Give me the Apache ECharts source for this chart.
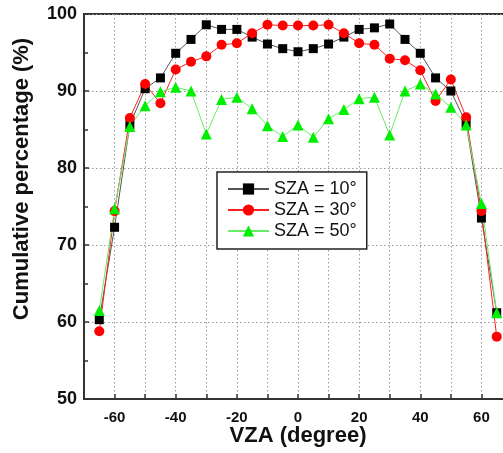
<!DOCTYPE html>
<html>
<head>
<meta charset="utf-8">
<script src="https://cdn.jsdelivr.net/npm/echarts@6/dist/echarts.min.js"></script>
<style>html,body{margin:0;padding:0;background:#fff}#c{width:503px;height:453px}</style>
</head>
<body>
<div id="c"></div>
<script>
const vza = [-65,-60,-55,-50,-45,-40,-35,-30,-25,-20,-15,-10,-5,0,5,10,15,20,25,30,35,40,45,50,55,60,65];
const sza10 = [60.3,72.3,85.6,90.3,91.7,94.9,96.7,98.6,98.0,98.0,97.0,96.1,95.5,95.1,95.5,96.1,97.0,98.0,98.2,98.7,96.7,94.9,91.7,90.0,85.8,73.5,61.2];
const sza30 = [58.8,74.4,86.5,90.9,88.4,92.8,93.8,94.5,96.0,96.2,97.5,98.6,98.5,98.5,98.5,98.6,97.5,96.2,96.0,94.2,94.0,92.7,88.7,91.5,86.6,74.4,58.1];
const sza50 = [61.5,74.7,85.4,88.1,89.9,90.5,90.0,84.4,88.9,89.2,87.7,85.5,84.1,85.6,84.0,86.4,87.6,89.0,89.2,84.3,90.0,90.9,89.6,87.9,85.6,75.4,61.2];
const seriesNames = ['SZA = 10°','SZA = 30°','SZA = 50°'];
const xLabels = [-60,-40,-20,0,20,40,60];
const xTicks = [-60,-50,-40,-30,-20,-10,0,10,20,30,40,50,60];
const xTitle = 'VZA (degree)';
const yTitle = 'Cumulative percentage (%)';

const FONT = '"Liberation Sans", Arial, sans-serif';
function pts(ys){ return vza.map((x,i)=>[x, ys[i]]); }
const chart = echarts.init(document.getElementById('c'), null, {renderer:'canvas'});
chart.setOption({
  backgroundColor:'#ffffff',
  animation:false,
  grid:{left:84, top:14, right:-9, bottom:54, outerBoundsMode:'none', containLabel:false,
        show:true, borderColor:'#333', borderWidth:2, backgroundColor:'transparent'},
  xAxis:{
    type:'value', min:-70, max:70, splitNumber:7,
    axisLine:{show:true, onZero:false, lineStyle:{color:'#333', width:2}},
    axisTick:{show:true, inside:true, length:5, customValues:xTicks, lineStyle:{color:'#333', width:1.5}},
    axisLabel:{customValues:xLabels, margin:11, color:'#111', fontFamily:FONT, fontWeight:'bold', fontSize:15},
    splitLine:{show:true, lineStyle:{color:'#999', type:[1.5,2.5], width:1}}
  },
  yAxis:{
    type:'value', min:50, max:100, interval:10,
    axisLine:{show:true, onZero:false, lineStyle:{color:'#333', width:2}},
    axisTick:{show:true, inside:true, length:5, lineStyle:{color:'#333', width:1.5}},
    minorTick:{show:true, splitNumber:2, length:4, lineStyle:{color:'#333', width:1.5}},
    axisLabel:{margin:7, color:'#111', fontFamily:FONT, fontWeight:'bold', fontSize:18},
    splitLine:{show:true, lineStyle:{color:'#999', type:[1.5,2.5], width:1}}
  },
  graphic:[{
    type:'text', x:22, y:179, rotation:Math.PI/2,
    style:{text:yTitle, fill:'#111', font:'bold 22px "Liberation Sans", Arial, sans-serif', align:'center', verticalAlign:'middle'}
  },{
    type:'text', x:298, y:436,
    style:{text:xTitle, fill:'#111', font:'bold 22px "Liberation Sans", Arial, sans-serif', align:'center', verticalAlign:'middle'}
  }],
  legend:{
    orient:'vertical', left:217, top:172,
    data:seriesNames,
    itemWidth:41, itemHeight:14, itemGap:3,
    padding:[8,10,9,10],
    borderColor:'#222', borderWidth:1.5, backgroundColor:'#fff',
    textStyle:{color:'#111', fontFamily:FONT, fontSize:18}
  },
  series:[
    {name:seriesNames[0], type:'line', data:pts(sza10), symbol:'rect', symbolSize:9,
     itemStyle:{color:'#000'}, lineStyle:{color:'#555', width:1}},
    {name:seriesNames[1], type:'line', data:pts(sza30), symbol:'circle', symbolSize:10,
     itemStyle:{color:'#ff0000'}, lineStyle:{color:'#ff2020', width:1}},
    {name:seriesNames[2], type:'line', data:pts(sza50), symbol:'triangle', symbolSize:11,
     itemStyle:{color:'#00ee00'}, lineStyle:{color:'#66ee66', width:1}}
  ]
});
</script>
</body>
</html>
